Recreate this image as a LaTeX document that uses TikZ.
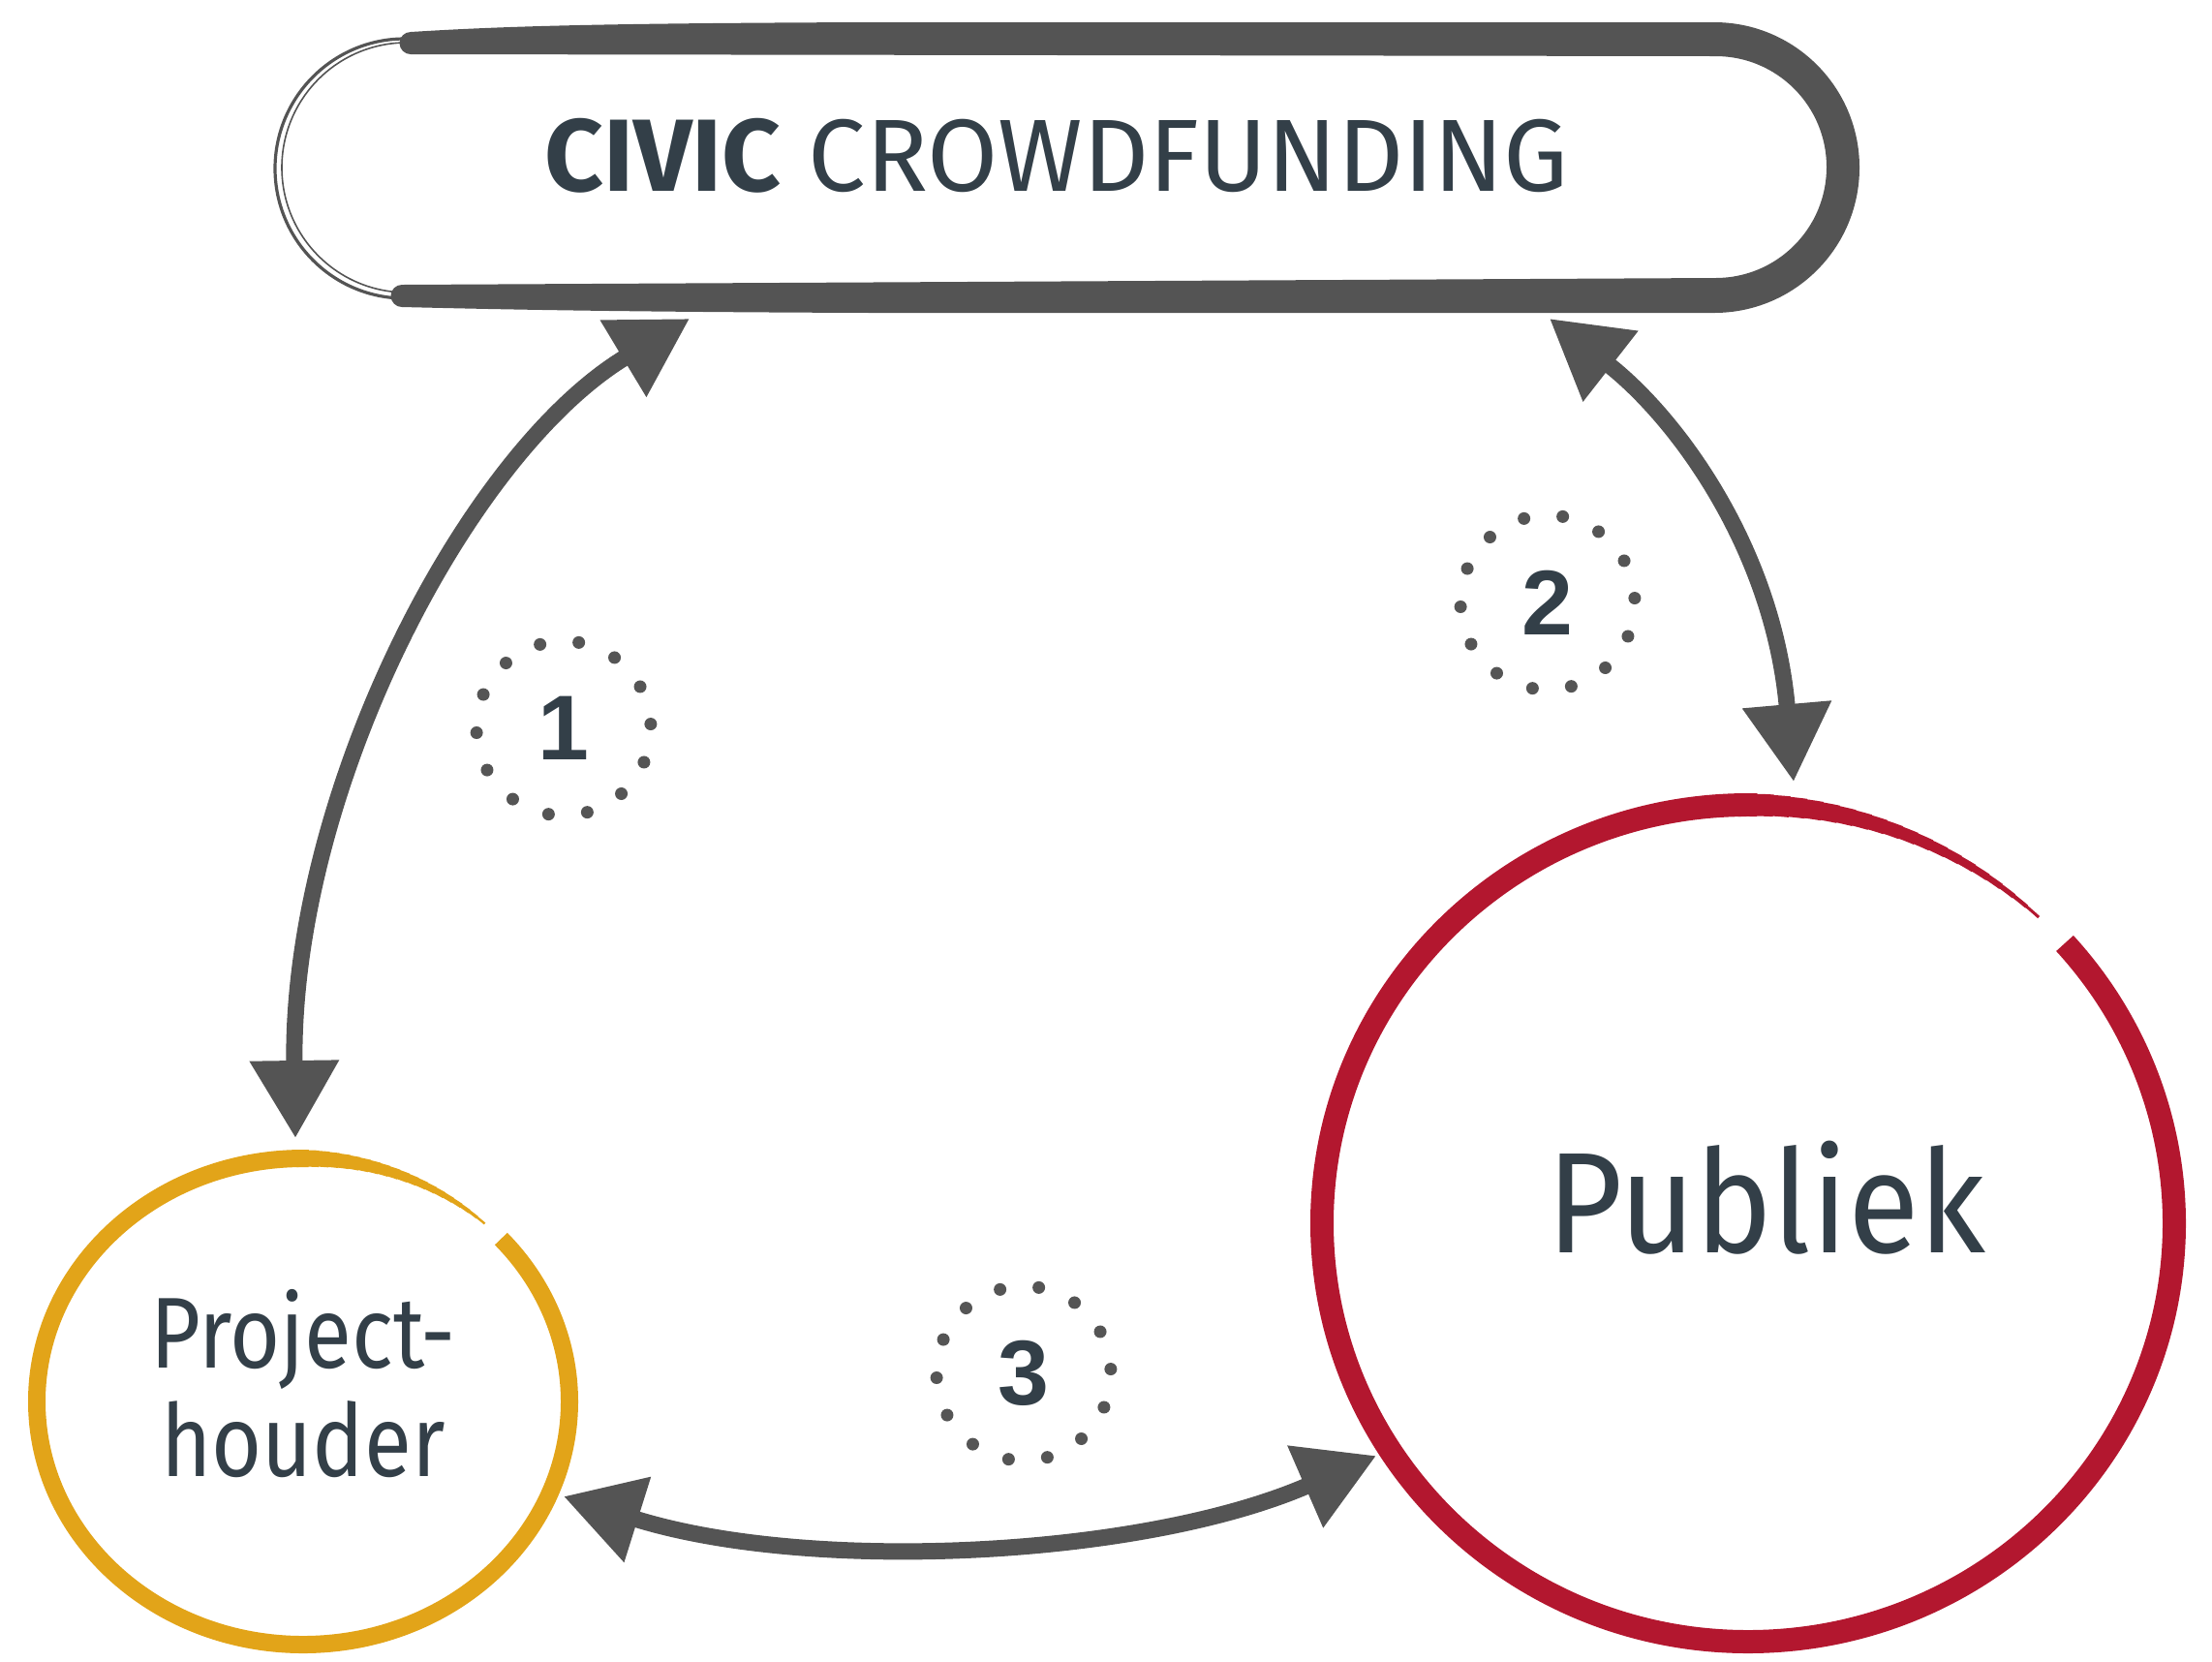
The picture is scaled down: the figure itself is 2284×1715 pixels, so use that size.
\documentclass[tikz,border=0pt]{standalone}
\usepackage{fontspec}
\setmainfont{Fira Sans}
\newfontfamily\numfont{Liberation Sans}
\newfontfamily\condfontA{Fira Sans}[FakeStretch=0.86]
\newfontfamily\condfontB{Fira Sans}[FakeStretch=0.91]
\usetikzlibrary{arrows.meta,shapes.geometric}
\definecolor{arrowgray}{HTML}{545454}
\definecolor{dotgray}{HTML}{555555}
\definecolor{textcol}{HTML}{333F48}
\definecolor{phyellow}{HTML}{E2A419}
\definecolor{pubred}{HTML}{B3172F}
\begin{document}
\begin{tikzpicture}[x=0.5pt,y=-0.5pt,
  conn/.style={draw=arrowgray, line width=8.5pt,
    {Triangle[width=44pt,length=40pt]}-{Triangle[width=44pt,length=40pt]}},
  dotc/.style={circle, fill=dotgray, inner sep=0pt, minimum size=6.5pt},
  numlbl/.style={font=\numfont\bfseries\fontsize{47.5}{50}\selectfont, text=textcol, inner sep=0pt},
  ring/.style={ellipse, draw=none, inner sep=0pt},
]
\useasboundingbox (0,0) rectangle (2284,1715);

% title box: brush band on top, right and bottom, thin strokes on the left
\fill[arrowgray]
  (424,33) .. controls (520,27) and (620,24) .. (900,23) -- (1770,23)
  arc[start angle=90, end angle=-90, radius=75pt]
  -- (900,323) .. controls (620,322) and (500,319) .. (415,317)
  arc[start angle=270, end angle=90, radius=5.75pt]
  -- (1771.5,287) arc[start angle=-90, end angle=90, radius=57.25pt]
  -- (424,56) arc[start angle=270, end angle=90, radius=5.75pt] -- cycle;
\draw[draw=arrowgray, line width=1.6pt] (418,308) arc[start angle=270, end angle=90, radius=67pt] -- (426,40);
\draw[draw=arrowgray, line width=0.8pt] (420,302) arc[start angle=270, end angle=90, radius=64.5pt] -- (428,46);
\node[font=\fontsize{53}{60}\selectfont, text=textcol, anchor=base] (title) at (1091,197) {\textbf{CIVIC} CROWDFUNDING};

% Projecthouder
\node[ring, minimum width=275pt, minimum height=251pt] (ph) at (313,1447) {};
\draw[draw=phyellow, line width=9pt] (ph.center) ++(91:137.5pt and 125.5pt) arc[start angle=91, end angle=402, x radius=137.5pt, y radius=125.5pt];
\foreach \i in {0,...,19} {
  \pgfmathsetmacro{\aa}{47+\i*2.2}
  \pgfmathsetmacro{\bb}{\aa+2.6}
  \pgfmathsetmacro{\ww}{1.2+\i*0.41}
  \draw[draw=phyellow, line width=\ww pt] (ph.center) ++(\aa:137.5pt and 125.5pt) arc[start angle=\aa, end angle=\bb, x radius=137.5pt, y radius=125.5pt];
}
\node[font=\condfontA\fontsize{52}{56}\selectfont, text=textcol, align=center] (phtext) at (313,1429) {Project-\\houder};

% Publiek
\node[ring, minimum width=440pt, minimum height=432pt] (pub) at (1805,1263) {};
\draw[draw=pubred, line width=12pt] (pub.center) ++(91:220pt and 216pt) arc[start angle=91, end angle=402, x radius=220pt, y radius=216pt];
\foreach \i in {0,...,19} {
  \pgfmathsetmacro{\aa}{47+\i*2.2}
  \pgfmathsetmacro{\bb}{\aa+2.6}
  \pgfmathsetmacro{\ww}{1.5+\i*0.55}
  \draw[draw=pubred, line width=\ww pt] (pub.center) ++(\aa:220pt and 216pt) arc[start angle=\aa, end angle=\bb, x radius=220pt, y radius=216pt];
}
\node[font=\condfontB\fontsize{74}{80}\selectfont, text=textcol, anchor=base] (pubtext) at (1824,1293) {Publiek};

% numbered dotted rings
\foreach \cx/\cy/\n in {582/752/1, 1598/622/2, 1057/1418/3} {
  \node[numlbl] (n\n) at (\cx,\cy) {\n};
  \foreach \k in {0,...,13}
    \path (n\n.center) ++(80+\k*25.714:45pt) node[dotc] (d\n-\k) {};
}

% connectors
\coordinate (a1s) at (712,329);
\coordinate (a1e) at (305,1175);
\coordinate (a2s) at (1600,329);
\coordinate (a2e) at (1852,807);
\coordinate (a3s) at (582,1545);
\coordinate (a3e) at (1421,1503);
\draw[conn] (a1s) .. controls (481,468) and (300,820) .. (a1e);
\draw[conn] (a2s) .. controls (1732,432) and (1831,567) .. (a2e);
\draw[conn] (a3s) .. controls (837,1625) and (1180,1608) .. (a3e);
\end{tikzpicture}
\end{document}
